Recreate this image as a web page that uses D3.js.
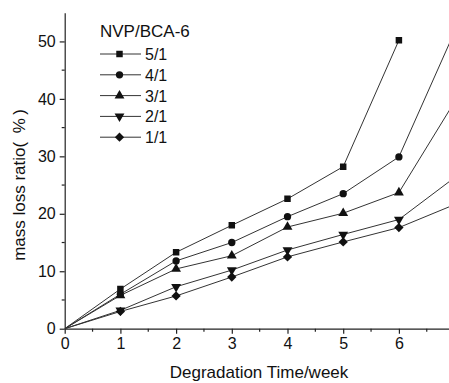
<!DOCTYPE html>
<html lang="en">
<head>
<meta charset="utf-8">
<title>Mass loss ratio</title>
<script src="https://cdn.jsdelivr.net/npm/d3@7"></script>
<style>
  body { margin: 0; background: #fff; }
  text { font-family: "Liberation Sans", Arial, sans-serif; fill: #111; }
  .axis path, .axis line { stroke: #222; stroke-width: 1.2; }
  .axis text { font-size: 16px; }
</style>
</head>
<body>
<div id="chart"></div>
<script>
// data
var weeks = [0, 1, 2, 3, 4, 5, 6, 7];
var seriesNames = ["5/1", "4/1", "3/1", "2/1", "1/1"];
var s51 = [0, 6.9, 13.3, 18.0, 22.6, 28.2, 50.2];
var s41 = [0, 6.0, 11.8, 15.0, 19.5, 23.5, 29.9, 51.7];
var s31 = [0, 5.8, 10.4, 12.7, 17.7, 20.1, 23.7, 39.5];
var s21 = [0, 3.2, 7.3, 10.2, 13.7, 16.4, 19.0, 26.3];
var s11 = [0, 3.0, 5.7, 9.0, 12.5, 15.1, 17.6, 21.6];
var xTicks = [0, 1, 2, 3, 4, 5, 6];
var yTicks = [0, 10, 20, 30, 40, 50];

var allSeries = [s51, s41, s31, s21, s11];
var symbols = [d3.symbolSquare, d3.symbolCircle, d3.symbolTriangle, "tridown", d3.symbolDiamond2];

var w = 449, h = 383;
var padL = 64.7, padB = 328.7, padT = 12.7;

var svg = d3.select("#chart").append("svg")
  .attr("width", w).attr("height", h);

var x = d3.scaleLinear().domain([0, 7]).range([padL, padL + 7 * 55.7]);
var y = d3.scaleLinear().domain([0, 55]).range([padB, padT]);

svg.append("defs").append("clipPath").attr("id", "clip")
  .append("rect").attr("x", padL).attr("y", padT - 5)
  .attr("width", w - padL).attr("height", padB - padT + 10);

// axes
var xAxis = d3.axisBottom(x).tickValues(xTicks).tickFormat(d3.format("d"))
  .tickSize(5).tickSizeOuter(0).tickPadding(4);
var gx = svg.append("g").attr("class", "axis")
  .attr("transform", "translate(0," + padB + ")").call(xAxis);
gx.selectAll(".minor").data(d3.range(0.5, 7, 1)).enter().append("line")
  .attr("x1", d => x(d)).attr("x2", d => x(d)).attr("y1", 0).attr("y2", 3)
  .attr("stroke", "#222");

var yAxis = d3.axisLeft(y).tickValues(yTicks).tickFormat(d3.format("d"))
  .tickSize(5).tickSizeOuter(0).tickPadding(4);
var gy = svg.append("g").attr("class", "axis")
  .attr("transform", "translate(" + padL + ",0)").call(yAxis);
gy.selectAll(".minor").data(d3.range(5, 55, 10)).enter().append("line")
  .attr("x1", 0).attr("x2", -3).attr("y1", d => y(d)).attr("y2", d => y(d))
  .attr("stroke", "#222");

svg.append("text").attr("x", 259).attr("y", 378)
  .attr("text-anchor", "middle").style("font-size", "17px")
  .text("Degradation Time/week");

svg.append("text")
  .attr("transform", "translate(25,185) rotate(-90)")
  .attr("text-anchor", "middle").style("font-size", "17px")
  .text("mass loss ratio(\u2002%\u2009)");

function marker(sel, sym) {
  if (sym === "tridown") {
    sel.attr("d", d3.symbol(d3.symbolTriangle).size(42)).attr("transform", function () {
      return d3.select(this).attr("transform") + " rotate(180)";
    });
  } else {
    sel.attr("d", d3.symbol(sym).size(sym === d3.symbolDiamond2 ? 55 : 42));
  }
}

var line = d3.line().x((d, i) => x(weeks[i])).y(d => y(d));
var plot = svg.append("g").attr("clip-path", "url(#clip)");

allSeries.forEach(function (s, k) {
  plot.append("path").datum(s).attr("d", line)
    .attr("fill", "none").attr("stroke", "#333").attr("stroke-width", 1);
  plot.selectAll(".m" + k).data(s.slice(1)).enter().append("path")
    .attr("transform", (d, i) => "translate(" + x(weeks[i + 1]) + "," + y(d) + ")")
    .attr("fill", "#111")
    .each(function () { marker(d3.select(this), symbols[k]); });
});

// legend
var lg = svg.append("g");
lg.append("text").attr("x", 100).attr("y", 37).style("font-size", "17px").text("NVP/BCA-6");
seriesNames.forEach(function (n, k) {
  var yy = 54 + k * 20.8;
  lg.append("line").attr("x1", 100).attr("x2", 141).attr("y1", yy).attr("y2", yy)
    .attr("stroke", "#333").attr("stroke-width", 1);
  lg.append("path").attr("transform", "translate(119.5," + yy + ")")
    .attr("fill", "#111")
    .each(function () { marker(d3.select(this), symbols[k]); });
  lg.append("text").attr("x", 145).attr("y", yy + 6).style("font-size", "16px").text(n);
});
</script>
</body>
</html>
